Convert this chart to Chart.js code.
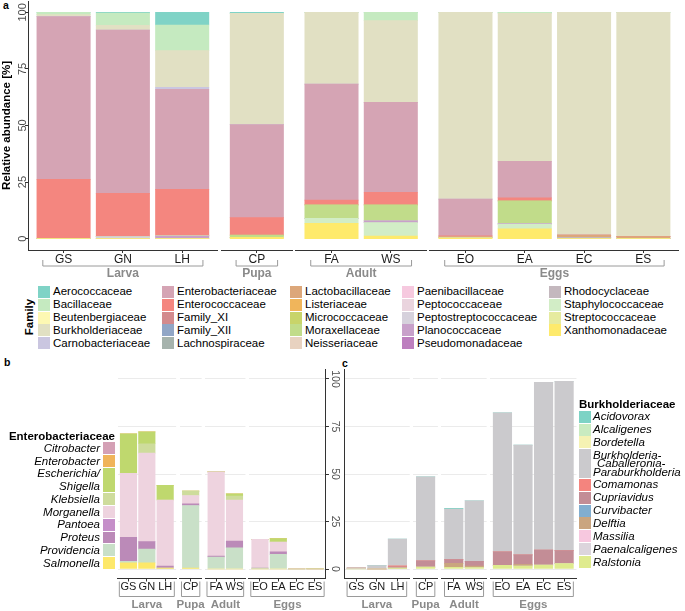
<!DOCTYPE html>
<html>
<head>
<meta charset="utf-8">
<title>Relative abundance</title>
<script src="https://cdn.jsdelivr.net/npm/chart.js@4.4.1/dist/chart.umd.min.js"></script>
<style>
  body { margin: 0; width: 685px; height: 611px; overflow: hidden; background: #fff; position: relative;
         font-family: "Liberation Sans", Arial, sans-serif; color: #000; }
  canvas { position: absolute; }
  .tag { position: absolute; font-weight: bold; font-size: 10.5px; line-height: 12px; }
  .item { position: absolute; font-size: 11.5px; white-space: nowrap; }
  .sw { position: absolute; }
</style>
</head>
<body>
<div class="tag" style="left:3px;top:-1px">a</div>
<div class="tag" style="left:4px;top:356px">b</div>
<div class="tag" style="left:342px;top:357px">c</div>
<script>
// Samples et stades
const samples = ["GS", "GN", "LH", "CP", "FA", "WS", "EO", "EA", "EC", "ES"];
const stages = ["Larva", "Pupa", "Adult", "Eggs"];
const stageSize = [3, 1, 2, 4];
const yTicks = [0, 25, 50, 75, 100];

// Panel a : familles (ordre de la légende)
const families = ["Aerococcaceae", "Bacillaceae", "Beutenbergiaceae", "Burkholderiaceae", "Carnobacteriaceae",
  "Enterobacteriaceae", "Enterococcaceae", "Family_XI", "Family_XII", "Lachnospiraceae",
  "Lactobacillaceae", "Listeriaceae", "Micrococcaceae", "Moraxellaceae", "Neisseriaceae",
  "Paenibacillaceae", "Peptococcaceae", "Peptostreptococcaceae", "Planococcaceae", "Pseudomonadaceae",
  "Rhodocyclaceae", "Staphylococcaceae", "Streptococcaceae", "Xanthomonadaceae"];
const familyColors = ["#7fd3c6", "#c5eac0", "#fdf8b3", "#e1e0c3", "#cac6e0",
  "#d5a4b4", "#f4867f", "#d38a8d", "#91a6c6", "#a6b3ad",
  "#dca77a", "#f0b55b", "#c8d46a", "#c1dc8a", "#e8d2c0",
  "#f6c9df", "#ead4de", "#d6d1dc", "#c8a0ca", "#bd7fbf",
  "#c4b8be", "#d2edc6", "#e6eb9f", "#feea6c"];
//                          GS    GN    LH    CP    FA    WS    EO    EA    EC    ES
const aerococcaceae       = [0,    0.3,  5.6,  0.5,  0,    0,    0,    0,    0,    0];
const bacillaceae         = [1.0,  5.5,  11.3, 0,    0,    3.7,  0,    0.5,  0,    0];
const burkholderiaceae    = [0.9,  2.0,  16.2, 49.1, 31.7, 36.1, 82.5, 65.3, 98.4, 99.1];
const carnobacteriaceae   = [0,    0,    0.9,  0,    0,    0,    0,    0,    0,    0];
const enterobacteriaceae  = [71.9, 72.2, 44.2, 41.1, 51.3, 39.7, 16.2, 16.2, 0,    0];
const enterococcaceae     = [26.2, 19.1, 20.5, 7.7,  2.1,  5.6,  0.6,  1.3,  0,    0];
const lactobacillaceae    = [0,    0,    0,    0,    0,    0,    0,    0,    1.0,  0.9];
const moraxellaceae       = [0,    0,    0,    1.0,  5.9,  7.0,  0.3,  9.9,  0,    0];
const peptostreptococcaceae = [0,  0.9,  0.3,  0,    0,    0,    0,    0,    0,    0];
const planococcaceae      = [0,    0,    1.0,  0,    0,    0.8,  0,    0.4,  0,    0];
const rhodocyclaceae      = [0,    0,    0,    0,    0,    0,    0,    0,    0.6,  0];
const staphylococcaceae   = [0,    0,    0,    0,    2.2,  5.9,  0,    2.1,  0,    0];
const xanthomonadaceae    = [0,    0,    0,    0.6,  6.8,  1.2,  0.4,  4.3,  0,    0];
const familyData = [aerococcaceae, bacillaceae, null, burkholderiaceae, carnobacteriaceae,
  enterobacteriaceae, enterococcaceae, null, null, null,
  lactobacillaceae, null, null, moraxellaceae, null,
  null, null, peptostreptococcaceae, planococcaceae, null,
  rhodocyclaceae, staphylococcaceae, null, xanthomonadaceae];

// Panel b : genres des Enterobacteriaceae
const enteroGenera = ["Citrobacter", "Enterobacter", "Escherichia/\nShigella", "Klebsiella", "Morganella",
  "Pantoea", "Proteus", "Providencia", "Salmonella"];
const enteroColors = ["#d4a0b5", "#f0b45a", "#bfd86e", "#cedc9c", "#eed3df",
  "#c58fc9", "#bb8ab8", "#c9e0c8", "#fde86a"];
const enterobacter = [0,    0,    0,    0,    0.3,  0,    0,    0,    0,    0];
const escherichia  = [20.9, 6.3,  7.7,  0,    0,    1.2,  0,    1.8,  0,    0];
const klebsiella   = [0,    4.9,  0,    2.3,  0,    2.1,  0,    0,    0,    0.3];
const morganella   = [33.6, 46.6, 34.8, 4.4,  44.3, 21.6, 15.1, 5.1,  0.3,  0];
const proteus      = [12.7, 3.9,  1.0,  0.9,  0.5,  3.5,  0,    1.4,  0,    0];
const providencia  = [0.7,  7.2,  0,    32.9, 6.3,  11.2, 0.5,  7.7,  0,    0];
const salmonella   = [3.3,  3.3,  0.5,  0.5,  0,    0,    0,    0,    0,    0];
const enteroData = [null, enterobacter, escherichia, klebsiella, morganella, null, proteus, providencia, salmonella];

// Panel c : genres des Burkholderiaceae
const burkGenera = ["Acidovorax", "Alcaligenes", "Bordetella", "Burkholderia-\nCaballeronia-\nParaburkholderia",
  "Comamonas", "Cupriavidus", "Curvibacter", "Delftia", "Massilia", "Paenalcaligenes", "Ralstonia"];
const burkColors = ["#7dd3c5", "#c9ebc0", "#f5f2b3", "#cbcacd", "#f4847e", "#c38d96",
  "#82aed0", "#caa57f", "#f7c8df", "#dcd5dc", "#dfeb8e"];
const acidovorax      = [0,    0,    0,    0,    0.3,  0,    0,    0,    0,    0];
const bcp             = [0,    1.8,  14.1, 44.2, 26.7, 31.8, 73.1, 57.8, 88.2, 89.1];
const comamonas       = [0,    0,    0.6,  0,    0,    0,    0,    0,    0,    0];
const cupriavidus     = [0,    0,    0.6,  3.3,  1.9,  2.5,  7.2,  4.9,  7.9,  6.9];
const delftia         = [0,    0,    0,    0,    2.1,  0.9,  0,    0.9,  0,    0];
const paenalcaligenes = [0.5,  0,    0,    0,    0,    0,    0,    0,    0,    0];
const ralstonia       = [0,    0,    0.5,  1.0,  0.9,  0.7,  1.9,  1.6,  2.1,  2.8];
const burkData = [acidovorax, null, null, bcp, comamonas, cupriavidus, null, delftia, null, paenalcaligenes, ralstonia];

const fam = "'Liberation Sans', Arial, sans-serif";
Chart.defaults.font.family = fam;
const axisCol = "#333333";
const stageCol = "#8a8a8a";
const expand = 0.6;

// crochet + nom du stade sous chaque facette
const bracketPlugin = {
  id: "bracket",
  afterDraw(chart, args, o) {
    const { ctx, chartArea: ca } = chart;
    const x0 = ca.left + o.inset, x1 = ca.right - o.inset;
    ctx.save();
    ctx.strokeStyle = o.lineColor;
    ctx.lineWidth = 1;
    ctx.beginPath();
    ctx.moveTo(x0, ca.bottom + o.y0);
    ctx.lineTo(x0, ca.bottom + o.y1);
    ctx.lineTo(x1, ca.bottom + o.y1);
    ctx.lineTo(x1, ca.bottom + o.y0);
    ctx.stroke();
    ctx.fillStyle = stageCol;
    ctx.font = "bold " + o.size + "px " + fam;
    ctx.textAlign = "center";
    ctx.textBaseline = "middle";
    ctx.fillText(o.text, (ca.left + ca.right) / 2, ca.bottom + o.ty);
    ctx.restore();
  }
};

function seriesOf(names, colors, values) {
  return names.map((name, i) => ({ name, color: colors[i], values: values[i] }))
    .filter(s => s.values).reverse();
}

function makeFacet(p, s, areaL, areaW, series) {
  const first = stageSize.slice(0, s).reduce((a, b) => a + b, 0);
  const n = stageSize[s];
  const yLeft = p.yAxis === "left" && s === 0;
  const yRight = p.yAxis === "right" && s === stages.length - 1;
  const M = 14;
  const yl = yLeft ? p.yW : 0, yr = yRight ? p.yW : 0;
  const cl = Math.floor(areaL - yl - M), ct = Math.floor(p.top - M);
  const cw = Math.ceil(areaL + areaW + yr + M) - cl;
  const ch = Math.ceil(p.bottom + p.below) - ct;
  const cv = document.createElement("canvas");
  cv.width = cw; cv.height = ch;
  cv.style.left = cl + "px"; cv.style.top = ct + "px";
  document.body.appendChild(cv);

  const showY = yLeft || yRight;
  new Chart(cv, {
    type: "bar",
    data: {
      labels: samples.slice(first, first + n),
      datasets: series.map(sr => ({
        label: sr.name,
        data: sr.values.slice(first, first + n),
        backgroundColor: sr.color,
        barThickness: 0.9 * p.unit,
        borderWidth: 0
      }))
    },
    options: {
      responsive: false,
      animation: false,
      devicePixelRatio: 1,
      events: [],
      layout: {
        padding: {
          left: areaL - cl - yl,
          right: cw - (areaL + areaW - cl) - yr,
          top: p.top - ct,
          bottom: ch - (p.bottom - ct) - p.xH
        }
      },
      plugins: {
        legend: { display: false },
        tooltip: { enabled: false },
        bracket: { inset: p.inset * p.unit, y0: p.br[0], y1: p.br[1], ty: p.br[2], text: stages[s], size: p.stageSize, lineColor: "#9a9a9a" }
      },
      scales: {
        x: {
          stacked: true,
          offset: true,
          // expansion ggplot : 0.6 unité de chaque côté
          afterBuildTicks: sc => {
            sc._startValue = sc.min - expand;
            sc._valueRange = sc.max - sc.min + 2 * expand;
          },
          afterFit: sc => { sc.height = p.xH; },
          border: { display: true, color: axisCol, width: 1 },
          grid: { drawOnChartArea: false, offset: false, tickLength: 3, color: axisCol },
          ticks: { color: "#1a1a1a", font: { size: p.tickSize }, padding: p.tickPad, maxRotation: 0, autoSkip: false }
        },
        y: {
          stacked: true,
          min: -5,
          max: 105,
          display: p.grid || showY,
          position: yRight ? "right" : "left",
          afterBuildTicks: sc => { sc.ticks = yTicks.map(v => ({ value: v })); },
          afterFit: sc => { sc.width = showY ? p.yW : 0; },
          border: { display: showY, color: axisCol, width: 1 },
          grid: { drawOnChartArea: p.grid, drawTicks: showY && p.yLabels, tickLength: 3, color: "#ebebeb", tickColor: axisCol },
          ticks: {
            display: showY && p.yLabels,
            color: "#4d4d4d",
            font: { size: p.ySize },
            minRotation: p.yRot, maxRotation: p.yRot,
            crossAlign: "center",
            padding: p.yPad
          },
          title: {
            display: showY && !!p.title,
            text: p.title || "",
            color: "#000",
            font: { size: 11.5, weight: "bold" },
            padding: { top: 0, bottom: 0 }
          }
        }
      }
    },
    plugins: [bracketPlugin]
  });
}

function drawPanel(p, series) {
  let x = p.left;
  stages.forEach((stage, s) => {
    const w = (stageSize[s] + 2 * (expand - 0.5)) * p.unit;
    makeFacet(p, s, x, w, series);
    x += w + p.gap;
  });
}

// Panel a
drawPanel({
  left: 28, unit: 59.3, gap: 3.5, top: 1, bottom: 250, below: 34, xH: 17,
  tickSize: 12, tickPad: -1, stageSize: 12, inset: 0.25, br: [10, 16, 23.5],
  grid: false, yAxis: "left", yW: 28, yLabels: true, ySize: 11, yRot: 90, yPad: -6.7,
  title: "Relative abundance [%]"
}, seriesOf(families, familyColors, familyData));

// Panel b
drawPanel({
  left: 117.5, unit: 18.33, gap: 3.5, top: 369.5, bottom: 578.5, below: 34, xH: 16,
  tickSize: 11, tickPad: -1.4, stageSize: 11.5, inset: 0.1, br: [3, 18, 26.5],
  grid: true, yAxis: "right", yW: 14, yLabels: true, ySize: 10.5, yRot: -90, yPad: -3.3
}, seriesOf(enteroGenera, enteroColors, enteroData));

// Panel c
drawPanel({
  left: 344, unit: 20.55, gap: 3.5, top: 369.5, bottom: 578.5, below: 34, xH: 16,
  tickSize: 11, tickPad: -1.4, stageSize: 11.5, inset: 0.15, br: [3, 18, 26.5],
  grid: true, yAxis: "left", yW: 0.01, yLabels: false, ySize: 10.5, yRot: 0, yPad: 0
}, seriesOf(burkGenera, burkColors, burkData));

// Légendes (HTML)
function addText(text, x, y, h, style) {
  const d = document.createElement("div");
  d.className = "item";
  d.textContent = text;
  d.style.left = x + "px";
  d.style.top = y + "px";
  d.style.lineHeight = h + "px";
  Object.assign(d.style, style || {});
  document.body.appendChild(d);
  return d;
}
function addSwatch(x, y, w, h, color) {
  const d = document.createElement("div");
  d.className = "sw";
  Object.assign(d.style, { left: x + "px", top: y + "px", width: w + "px", height: h + "px", background: color });
  document.body.appendChild(d);
}

// Légende a
const legCols = [38, 162, 290, 402, 549];
families.forEach((name, i) => {
  const col = Math.floor(i / 5), row = i % 5;
  const cy = 291.7 + row * 12.9;
  addSwatch(legCols[col], cy - 6, 12.3, 12, familyColors[i]);
  addText(name, legCols[col] + 15, cy - 6.45, 12.9);
});
addText("Family", 0, 310, 14, { fontWeight: "bold", width: "58px", textAlign: "center", transform: "rotate(-90deg)" });

// Légende b
addText("Enterobacteriaceae", 0, 429.5, 13, { fontWeight: "bold", right: "570px", left: "auto" });
let yb = 441.9;
enteroGenera.forEach((g, i) => {
  const lines = g.split("\n");
  const h = lines.length * 12.75;
  addSwatch(102.7, yb + 0.4, 12.3, h - 0.8, enteroColors[i]);
  lines.forEach((ln, k) => addText(ln, 0, yb + k * 12.75, 12.75, { fontStyle: "italic", right: "585px", left: "auto" }));
  yb += h;
});

// Légende c
addText("Burkholderiaceae", 579, 397.5, 13, { fontWeight: "bold" });
let yc = 410.3;
const burkIndent = [0, 4, 0];
burkGenera.forEach((g, i) => {
  const lines = g.split("\n");
  const h = lines.length === 1 ? 12.85 : 29.6;
  addSwatch(579, yc + 0.4, 12, h - 0.8, burkColors[i]);
  if (lines.length === 1) {
    addText(g, 593, yc, 12.85, { fontStyle: "italic" });
  } else {
    lines.forEach((ln, k) => addText(ln, 593 + burkIndent[k], yc + 2.2 + k * 8.35, 8.35, { fontStyle: "italic" }));
  }
  yc += h;
});
</script>
</body>
</html>
